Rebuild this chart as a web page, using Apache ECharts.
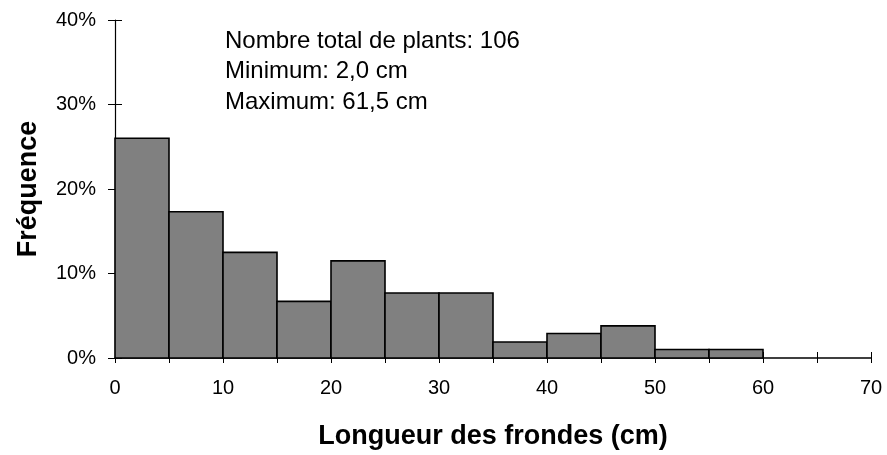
<!DOCTYPE html>
<html>
<head>
<meta charset="utf-8">
<script src="https://cdn.jsdelivr.net/npm/echarts@6/dist/echarts.min.js"></script>
<style>
html,body{margin:0;padding:0;background:#fff;}
#chart{width:887px;height:455px;}
</style>
</head>
<body>
<div id="chart"></div>
<script>
// Data
const binStart = [0, 5, 10, 15, 20, 25, 30, 35, 40, 45, 50, 55, 60, 65];
const binEnd   = [5, 10, 15, 20, 25, 30, 35, 40, 45, 50, 55, 60, 65, 70];
const frequency = [26.0, 17.3, 12.5, 6.7, 11.5, 7.7, 7.7, 1.9, 2.9, 3.8, 1.0, 1.0, 0, 0];
const yTicks = [0, 10, 20, 30, 40];
const xTicks = [0, 10, 20, 30, 40, 50, 60, 70];
const infoLines = ['Nombre total de plants: 106', 'Minimum: 2,0 cm', 'Maximum: 61,5 cm'];
const xTitle = 'Longueur des frondes (cm)';
const yTitle = 'Fréquence';

const FONT = 'Liberation Sans, Arial, sans-serif';
const chart = echarts.init(document.getElementById('chart'));

const seriesData = binStart.map((s, i) => [s, binEnd[i], frequency[i]]);

chart.setOption({
  animation: false,
  backgroundColor: '#fff',
  title: {
    text: infoLines.join('\n'),
    left: 225,
    top: 26,
    padding: 0,
    textStyle: { fontFamily: FONT, fontSize: 24, fontWeight: 'normal', color: '#000', lineHeight: 30.5 }
  },
  grid: { left: 115, right: 16, top: 20, bottom: 93 },
  xAxis: [{
    type: 'value', min: 0, max: 70, interval: 5,
    axisLine: { show: true, lineStyle: { color: '#000', width: 1.5 } },
    axisTick: { show: true, length: 5, lineStyle: { color: '#000', width: 1 } },
    splitLine: { show: false },
    axisLabel: {
      fontFamily: FONT, fontSize: 20, color: '#000', margin: 20,
      formatter: v => (xTicks.indexOf(v) >= 0 ? String(v) : '')
    },
    name: xTitle, nameLocation: 'middle', nameGap: 65,
    nameTextStyle: { fontFamily: FONT, fontSize: 27, fontWeight: 'bold', color: '#000' }
  }, {
    type: 'value', min: 0, max: 70, interval: 5, position: 'bottom',
    axisLine: { show: false },
    axisTick: { show: true, inside: true, length: 6, lineStyle: { color: '#000', width: 1 } },
    axisLabel: { show: false }, splitLine: { show: false }
  }],
  yAxis: [{
    type: 'value', min: 0, max: 40, interval: 10,
    axisLine: { show: true, lineStyle: { color: '#000', width: 1.2 } },
    axisTick: { show: true, length: 7, lineStyle: { color: '#000', width: 1 } },
    splitLine: { show: false },
    axisLabel: { fontFamily: FONT, fontSize: 20, color: '#000', margin: 19, formatter: '{value}%' },
    name: yTitle, nameLocation: 'middle', nameGap: 73, nameRotate: 90,
    nameTextStyle: { fontFamily: FONT, fontSize: 27, fontWeight: 'bold', color: '#000' }
  }, {
    type: 'value', min: 0, max: 40, interval: 10, position: 'left',
    axisLine: { show: false },
    axisTick: { show: true, inside: true, length: 7, lineStyle: { color: '#000', width: 1 } },
    axisLabel: { show: false }, splitLine: { show: false }
  }],
  series: [{
    type: 'custom',
    xAxisIndex: 0, yAxisIndex: 0,
    z: 1,
    renderItem: function (params, api) {
      const p0 = api.coord([api.value(0), 0]);
      const p1 = api.coord([api.value(1), api.value(2)]);
      if (api.value(2) <= 0) return null;
      return {
        type: 'rect',
        shape: { x: p0[0], y: p1[1], width: p1[0] - p0[0], height: p0[1] - p1[1] },
        style: { fill: '#808080', stroke: '#000', lineWidth: 1.6 }
      };
    },
    encode: { x: [0, 1], y: 2 },
    data: seriesData
  }]
});
</script>
</body>
</html>
